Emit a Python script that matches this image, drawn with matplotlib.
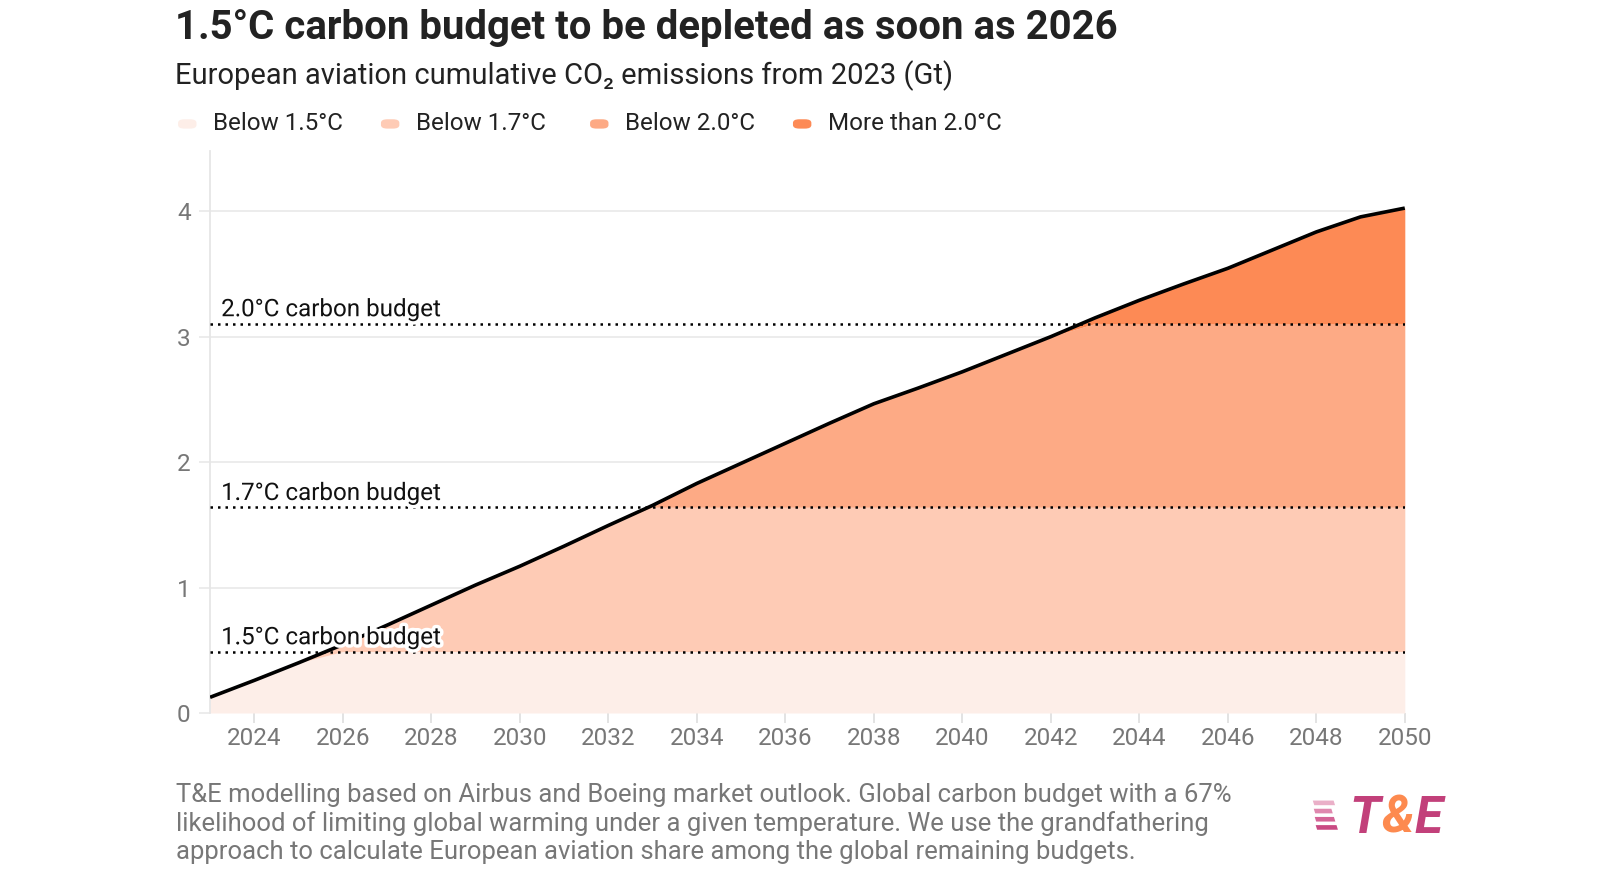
import matplotlib.pyplot as plt
import matplotlib.patheffects as pe
from matplotlib.patches import FancyBboxPatch, Polygon
import numpy as np

plt.rcParams['font.family'] = ['Roboto', 'DejaVu Sans']

# Datos (Gt CO2 acumulado desde 2023)
years = list(range(2023, 2051))
cumulative = [0.125, 0.26, 0.40, 0.545, 0.70, 0.86, 1.02, 1.17, 1.33, 1.495,
              1.655, 1.83, 1.99, 2.15, 2.31, 2.465, 2.59, 2.72, 2.86, 3.00,
              3.15, 3.29, 3.42, 3.545, 3.69, 3.835, 3.955, 4.025]

budget_names = ['1.5°C carbon budget', '1.7°C carbon budget', '2.0°C carbon budget']
budget_values = [0.49, 1.64, 3.105]

legend_labels = ['Below 1.5°C', 'Below 1.7°C', 'Below 2.0°C', 'More than 2.0°C']
band_colors = ['#fdeee8', '#fecbb5', '#fdaa85', '#fd8a55']

x_ticks = list(range(2024, 2051, 2))
y_ticks = [0, 1, 2, 3, 4]

title = '1.5°C carbon budget to be depleted as soon as 2026'
subtitle = 'European aviation cumulative CO₂ emissions from 2023 (Gt)'
footer = ('T&E modelling based on Airbus and Boeing market outlook. Global carbon budget with a 67%\n'
          'likelihood of limiting global warming under a given temperature. We use the grandfathering\n'
          'approach to calculate European aviation share among the global remaining budgets.')

fig = plt.figure(figsize=(16, 8.9), dpi=100)
ax = fig.add_axes([0.1313, 0.1989, 0.7467, 0.6314])

x = np.array(years)
y = np.array(cumulative)
limites = [0] + budget_values + [np.inf]
for i in range(4):
    lo = np.minimum(y, limites[i])
    hi = np.minimum(y, limites[i + 1])
    ax.fill_between(x, lo, hi, where=hi > lo, color=band_colors[i], lw=0, interpolate=True)

ax.plot(x, y, color='black', lw=2.6, solid_capstyle='butt', solid_joinstyle='round', zorder=5)

for name, val in zip(budget_names, budget_values):
    ax.axhline(val, color='black', lw=1.8, linestyle=(0, (1, 2)), zorder=4)
    ax.text(2023.25, val + 0.11, name, fontsize=17.4, color='#111111', va='center', ha='left', zorder=6,
            path_effects=[pe.withStroke(linewidth=5, foreground='white')])

ax.set_xlim(2023, 2050)
ax.set_ylim(0, 4.48)
ax.set_xticks(x_ticks)
ax.set_yticks(y_ticks)
ax.grid(axis='y', color='#ebebeb', lw=1.3, zorder=0)
ax.set_axisbelow(True)
for s in ['top', 'right', 'bottom']:
    ax.spines[s].set_visible(False)
ax.spines['left'].set_color('#e6e6e6')
ax.spines['left'].set_linewidth(1.3)
ax.tick_params(axis='y', length=8, color='#ebebeb', width=1.3, labelsize=17.5, labelcolor='#777777', pad=6)
ax.tick_params(axis='x', length=7, color='#e0e0e0', width=1.3, labelsize=17.5, labelcolor='#777777', pad=3)

# Títulos
fig.text(0.1094, 0.968, title, fontsize=28.9, fontweight='bold', color='#222222', va='center', ha='left')
fig.text(0.1094, 0.915, subtitle, fontsize=21, color='#222222', va='center', ha='left')

# Leyenda
legend_x = [0.1113, 0.2381, 0.3688, 0.4956]
for lx, lab, col in zip(legend_x, legend_labels, band_colors):
    fig.patches.append(FancyBboxPatch((lx, 0.8555), 0.0115, 0.0105, boxstyle='round,pad=0,rounding_size=0.004',
                                      transform=fig.transFigure, facecolor=col, edgecolor='none'))
    fig.text(lx + 0.0219, 0.8615, lab, fontsize=17.4, color='#222222', va='center', ha='left')

# Pie
fig.text(0.110, 0.0745, footer, fontsize=18.45, color='#777777', va='center', ha='left', linespacing=1.21)

# Logo T&E
for k, (w, c) in enumerate(zip([0.013, 0.011, 0.012, 0.013], ['#eab0c8', '#df88ae', '#d46496', '#c94a83'])):
    yy = 0.1005 - k * 0.0092
    x0 = 0.8205 + k * 0.0006
    fig.patches.append(Polygon([(x0, yy), (x0 + w, yy), (x0 + w + 0.0009, yy - 0.0052), (x0 + 0.0009, yy - 0.0052)],
                               closed=True, transform=fig.transFigure, facecolor=c, edgecolor='none'))
fig.canvas.draw()
renderer = fig.canvas.get_renderer()
lx = 0.8435
for ch, col in [('T', '#c2407a'), ('&', '#fd8a4f'), ('E', '#c2407a')]:
    t = fig.text(lx, 0.0802, ch, fontsize=37, fontweight='bold', style='italic', color=col, va='center', ha='left')
    bb = t.get_window_extent(renderer)
    lx = bb.x1 / fig.bbox.width + 0.0005

plt.savefig('out.png', dpi=100)
